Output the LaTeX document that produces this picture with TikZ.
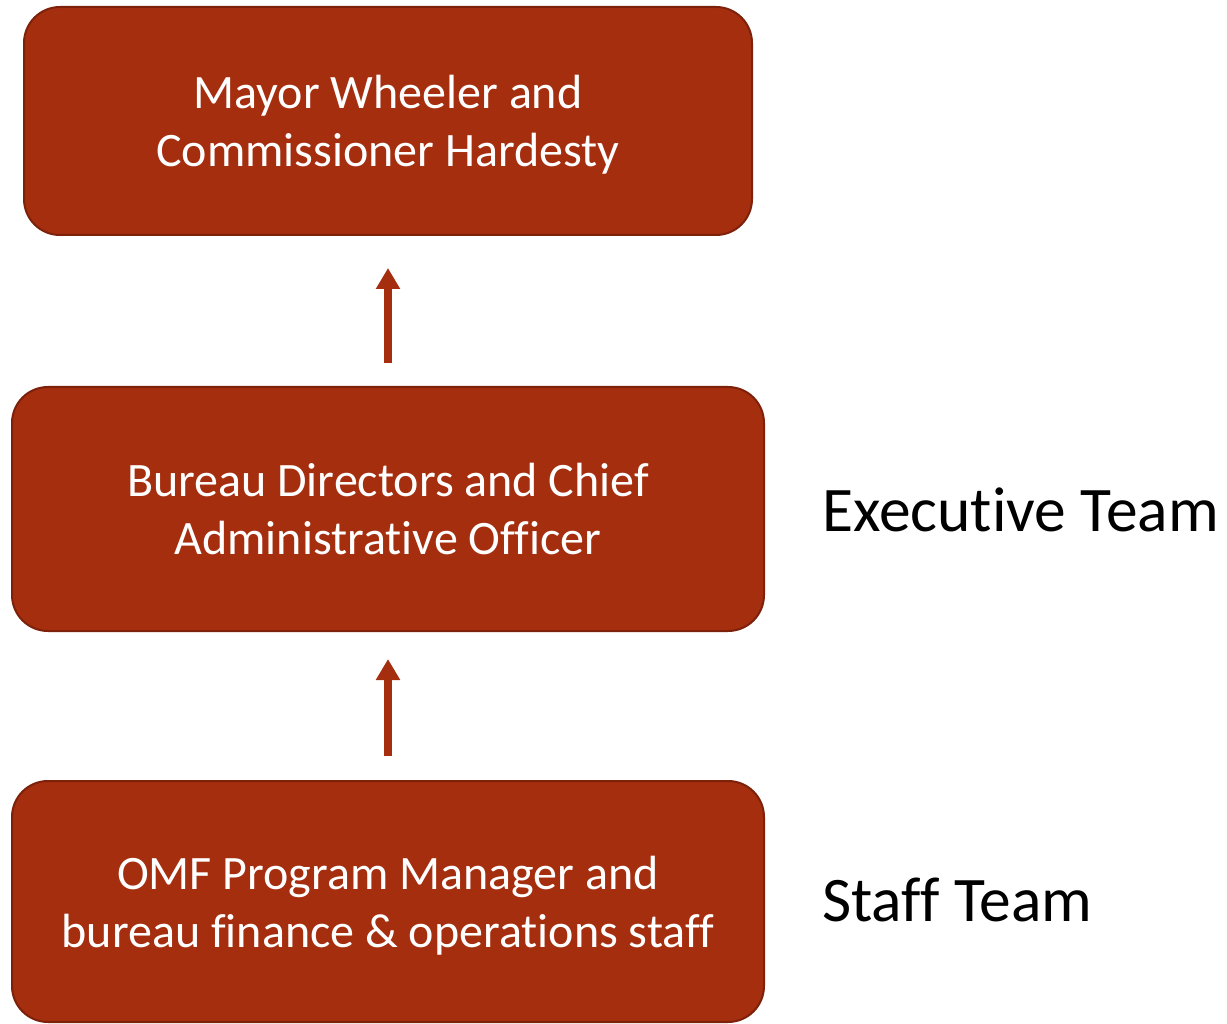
\documentclass[tikz,border=0pt]{standalone}
\usepackage{fontspec}
\setmainfont{Carlito}[Ligatures={NoCommon}]
\usetikzlibrary{arrows.meta}
\definecolor{boxfill}{RGB}{165,46,15}
\definecolor{boxline}{RGB}{125,33,10}
\begin{document}
\begin{tikzpicture}[x=1pt,y=-1pt,
  orgbox/.style={draw=boxline, line width=2pt, fill=boxfill, rounded corners=36pt,
    text=white, align=center, inner sep=0pt, text depth=0pt,
    font=\fontsize{48}{58}\selectfont},
  uparrow/.style={draw=boxfill, line width=8pt,
    -{Triangle[width=23pt,length=21pt]}},
  teamlabel/.style={inner sep=0pt, anchor=base west, font=\fontsize{63.5}{76}\selectfont}
]
\useasboundingbox (0,0) rectangle (1227,1024);
\node[orgbox, minimum width=728pt, minimum height=228pt] (b1) at (388,121)
  {Mayor Wheeler and\\Commissioner Hardesty};
\node[orgbox, minimum width=752pt, minimum height=244pt] (b2) at (388,509)
  {Bureau Directors and Chief\\Administrative Officer};
\node[orgbox, minimum width=752pt, minimum height=241pt] (b3) at (388,901.5)
  {OMF Program Manager and\\bureau finance \& operations staff};
\draw[uparrow, shorten <=23pt, shorten >=32pt] (b2.north) -- (b1.south);
\draw[uparrow, shorten <=24pt, shorten >=27pt] (b3.north) -- (b2.south);
\node[teamlabel] (exec) at (822,531) {Executive Team};
\node[teamlabel] (staff) at (822,921) {Staff Team};
\end{tikzpicture}
\end{document}
